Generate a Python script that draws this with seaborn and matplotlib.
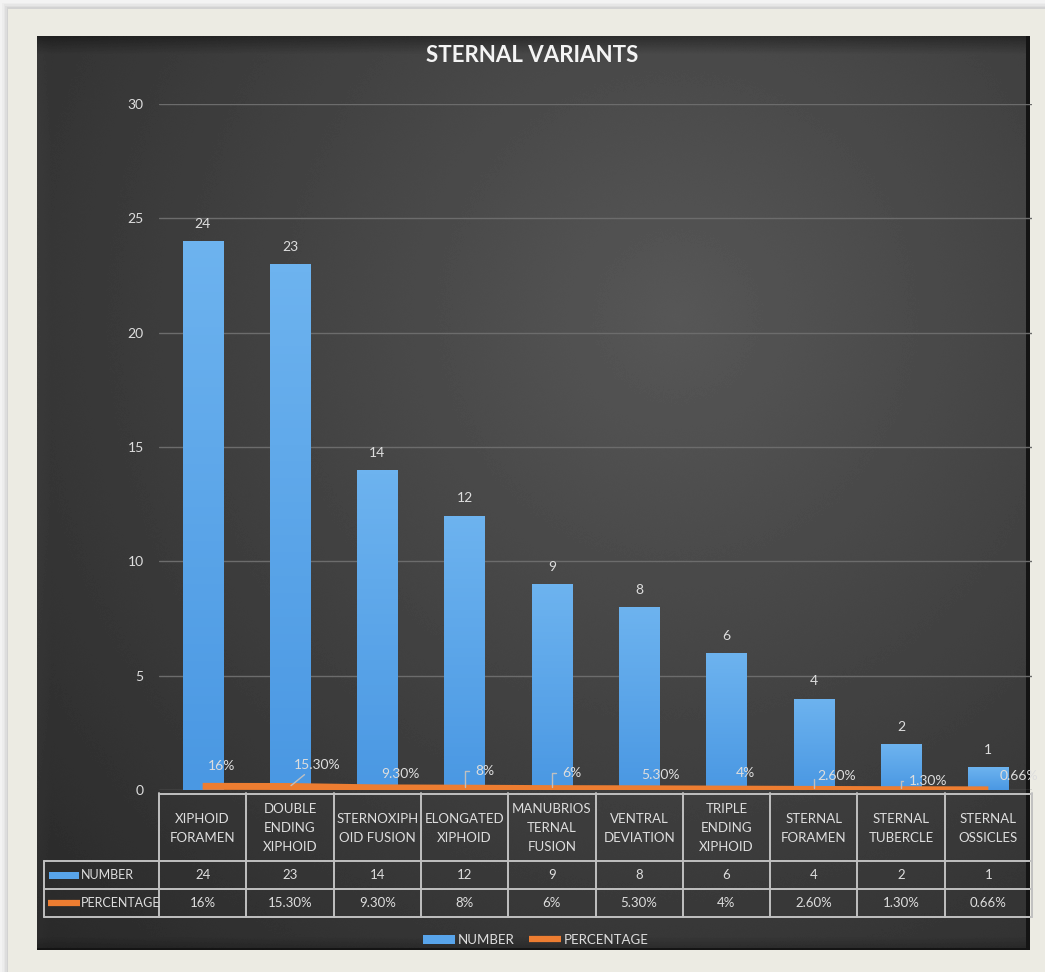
import numpy as np
import matplotlib
matplotlib.use("Agg")
import matplotlib.pyplot as plt
import seaborn as sns
from matplotlib.patches import Rectangle
from matplotlib.lines import Line2D
from matplotlib.colors import LinearSegmentedColormap

# ---- data -------------------------------------------------------------
categories = [
    "XIPHOID\nFORAMEN", "DOUBLE\nENDING\nXIPHOID", "STERNOXIPH\nOID FUSION",
    "ELONGATED\nXIPHOID", "MANUBRIOS\nTERNAL\nFUSION", "VENTRAL\nDEVIATION",
    "TRIPLE\nENDING\nXIPHOID", "STERNAL\nFORAMEN", "STERNAL\nTUBERCLE",
    "STERNAL\nOSSICLES",
]
numbers = [24, 23, 14, 12, 9, 8, 6, 4, 2, 1]
percentages = [16, 15.3, 9.3, 8, 6, 5.3, 4, 2.6, 1.3, 0.66]
percentage_labels = ["16%", "15.30%", "9.30%", "8%", "6%", "5.30%", "4%",
                     "2.60%", "1.30%", "0.66%"]
y_ticks = [0, 5, 10, 15, 20, 25, 30]
series_names = ["NUMBER", "PERCENTAGE"]
title = "STERNAL VARIANTS"

# label placement for the percentage series (pixel offsets, leader style)
pct_offsets = [(19, 20), (27, 22), (23, 14), (20, 17), (20, 16),
               (21, 14), (19, 16), (23, 13), (27, 9), (31, 14)]
pct_leaders = [None, "arc3", None, "angle", "angle", "angle", None,
               "angle", "angle", None]

# ---- style ------------------------------------------------------------
sns.set_style("dark")
plt.rcParams["font.family"] = ["Lato", "DejaVu Sans"]

TEXT = "#dedede"
BLUE = "#58a4ea"
ORANGE = "#ed7d31"
LINE = "#c0c0c0"
FS = 9.5

W_PX, H_PX = 1045, 972
fig = plt.figure(figsize=(W_PX / 100, H_PX / 100), dpi=100)
fig.patch.set_facecolor("#f3f3f3")

# ---- frame and dark panel ---------------------------------------------
bg = fig.add_axes([0, 0, 1, 1], zorder=0)
bg.set_xlim(0, W_PX)
bg.set_ylim(H_PX, 0)
bg.axis("off")

for k, a in enumerate([0.05, 0.07, 0.09, 0.12]):
    off = 6 - 1.5 * k
    bg.add_patch(Rectangle((8 - off, 9 - off), 1100, 1100, color="#8a8a8a",
                           alpha=a, lw=0))
bg.add_patch(Rectangle((8, 9), 1100, 1100, color="#ecebe3", lw=0))

px0, py0, px1, py1 = 37, 37, 1030, 950
ph, pw = py1 - py0, px1 - px0
yy, xx = np.mgrid[0:ph, 0:pw]
d = np.hypot((xx - 640) / pw, (yy - 280) / ph * 0.9)
v = 0.34 - 0.2 * d
v = np.where(yy < 18, v * (0.62 + 0.38 * yy / 18), v)
v = np.where(xx < 14, v * (1.08 - 0.08 * xx / 14), v)
v = np.where(yy > ph - 14, v * (0.75 + 0.25 * (ph - yy) / 14), v)
v = np.where(xx > pw - 5, 0.08, v)
v = np.where(yy > ph - 3, 0.08, v)
rng = np.random.default_rng(3)
v = v + rng.uniform(-0.5, 0.5, v.shape) / 255  # dither against banding
bg.imshow(v, cmap="gray", vmin=0, vmax=1, extent=[px0, px1, py1, py0],
          aspect="auto", interpolation="nearest", zorder=2)

# ---- main chart -------------------------------------------------------
def fx(p):
    return p / W_PX


def fy(p):
    return 1 - p / H_PX


ax_left, ax_right, ax_bottom, ax_top = 159, 1032, 790, 104
ax = fig.add_axes([fx(ax_left), fy(ax_bottom), fx(ax_right - ax_left),
                   (ax_bottom - ax_top) / H_PX], zorder=3)
ax.set_facecolor("none")

sns.barplot(x=list(range(len(numbers))), y=numbers, ax=ax, color=BLUE,
            width=0.46, saturation=1, native_scale=True, linewidth=0,
            zorder=3)

# soft vertical gradient on each bar
grad = LinearSegmentedColormap.from_list("bar", ["#4a98e3", "#6db3ef"])
for p in ax.patches:
    p.set_edgecolor("none")
    x, y = p.get_x(), p.get_y()
    w, h = p.get_width(), p.get_height()
    im = ax.imshow(np.linspace(0, 1, 64).reshape(-1, 1), cmap=grad,
                   extent=[x, x + w, y, y + h], origin="lower",
                   aspect="auto", zorder=3.5)
    im.set_clip_path(p)

ax.bar_label(ax.containers[0], labels=[str(n) for n in numbers],
             padding=8, color=TEXT, fontsize=FS + 0.5)

xs = np.arange(len(percentages))
pct_vals = np.array(percentages) / 100
ax.plot(xs, pct_vals, color=ORANGE, lw=5, solid_capstyle="butt", zorder=5)

for i, (val, lab) in enumerate(zip(pct_vals, percentage_labels)):
    dx, dy = pct_offsets[i]
    style = pct_leaders[i]
    kw = {}
    if style == "angle":
        kw["arrowprops"] = dict(arrowstyle="-", color=LINE, lw=1,
                                connectionstyle="angle,angleA=0,angleB=90,rad=0",
                                shrinkA=2, shrinkB=1)
    elif style == "arc3":
        kw["arrowprops"] = dict(arrowstyle="-", color=LINE, lw=1,
                                shrinkA=1, shrinkB=1)
    t = ax.annotate(lab, xy=(i, val), xytext=(dx, dy),
                    textcoords="offset pixels", ha="center", va="center",
                    color=TEXT, fontsize=FS + 0.5, zorder=6, **kw)
    t.set_clip_on(True)

ax.set_xlim(-0.5, len(numbers) - 0.5)
ax.set_ylim(0, 30)
ax.set_yticks(y_ticks)
ax.set_yticklabels([str(t) for t in y_ticks])
ax.tick_params(axis="y", length=0, pad=11, labelcolor=TEXT,
               labelsize=FS + 0.5)
ax.tick_params(axis="x", length=0, labelbottom=False)
ax.set_xlabel("")
ax.set_ylabel("")
ax.grid(False)
ax.yaxis.grid(True, color="#6c6c6c", lw=1)
ax.set_axisbelow(True)
for s in ax.spines.values():
    s.set_visible(False)

fig.text(fx(532), fy(56), title, ha="center", va="center", color="#f4f4f4",
         fontsize=16, fontweight="bold", zorder=6)

# ---- data table ---------------------------------------------------------
unit = (ax_right - ax_left) / len(numbers)
head_w = (ax_left - px0) / unit
tb_top, tb_r1, tb_r2, tb_bot = 793, 861, 889, 917
tax = fig.add_axes([fx(px0), fy(tb_bot), fx(ax_right - px0),
                    (tb_bot - tb_top) / H_PX], zorder=4)
tax.set_facecolor("none")
tax.set_xlim(-0.5 - head_w, len(numbers) - 0.5)
tax.set_ylim(tb_bot, tb_top)
tax.axis("off")

xl = -0.5 - head_w
xb = xl + 7 / unit  # left border of the row-header cells
xr = len(numbers) - 0.5
lk = dict(color=LINE, lw=1.4, clip_on=False)
tax.plot([-0.5, xr], [tb_top + 0.5, tb_top + 0.5], **lk)
for yv in (tb_r1, tb_r2, tb_bot - 0.5):
    tax.plot([xb, xr], [yv, yv], **lk)
tax.plot([xb, xb], [tb_r1, tb_bot - 0.5], **lk)
for k in range(len(numbers) + 1):
    tax.plot([k - 0.5, k - 0.5], [tb_top, tb_bot], **lk)

for i, cat in enumerate(categories):
    tax.text(i, (tb_top + tb_r1) / 2 + 1, cat, ha="center", va="center",
             color=TEXT, fontsize=FS, linespacing=1.7)
    tax.text(i, (tb_r1 + tb_r2) / 2, str(numbers[i]), ha="center",
             va="center", color=TEXT, fontsize=FS)
    tax.text(i, (tb_r2 + tb_bot) / 2, percentage_labels[i], ha="center",
             va="center", color=TEXT, fontsize=FS)

# row headers with series keys
tax.add_patch(Rectangle((xl + 12 / unit, (tb_r1 + tb_r2) / 2 - 3.5),
                        30 / unit, 7, color=BLUE, lw=0))
tax.text(xl + 44 / unit, (tb_r1 + tb_r2) / 2, series_names[0],
         ha="left", va="center", color=TEXT, fontsize=FS - 0.5)
tax.plot([xl + 11 / unit, xl + 43 / unit], [(tb_r2 + tb_bot) / 2] * 2,
         color=ORANGE, lw=4.5, solid_capstyle="butt")
tax.text(xl + 44 / unit, (tb_r2 + tb_bot) / 2, series_names[1],
         ha="left", va="center", color=TEXT, fontsize=FS - 0.5)

# ---- legend -------------------------------------------------------------
handles = [Rectangle((0, 0), 1, 1, color=BLUE, lw=0),
           Line2D([0], [0], color=ORANGE, lw=4.5, solid_capstyle="butt")]
leg = fig.legend(handles, series_names, loc="center", ncol=2,
                 bbox_to_anchor=(fx(536), fy(940)), frameon=False,
                 handlelength=2.4, handleheight=0.7, handletextpad=0.25,
                 columnspacing=1.1, fontsize=FS, labelcolor=TEXT)
leg.set_zorder(7)

fig.savefig("out.png", dpi=100, facecolor=fig.get_facecolor())
